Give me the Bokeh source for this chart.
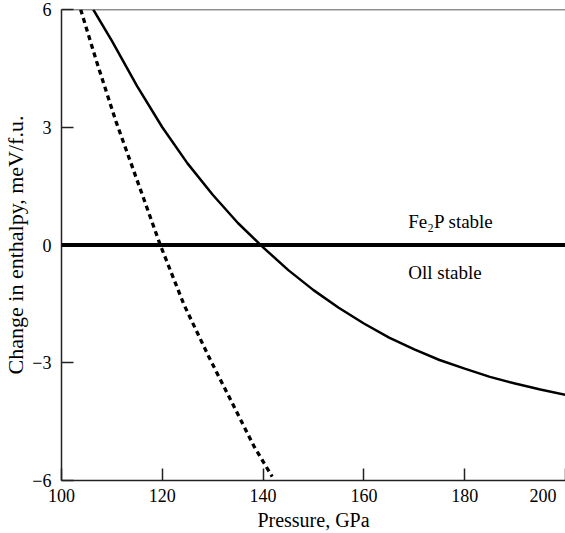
from bokeh.plotting import figure
from bokeh.models import Range1d, Span, Label, FixedTicker
from bokeh.embed import file_html
from bokeh.resources import INLINE

# Data
solid_p = [106.3, 110, 115, 120, 125, 130, 135, 140, 145, 150, 155, 160, 165, 170, 175, 180, 185, 190, 195, 200]
solid_e = [6.0, 5.2, 4.05, 3.0, 2.08, 1.28, 0.56, -0.06, -0.64, -1.15, -1.6, -2.0, -2.36, -2.66, -2.93, -3.15, -3.36, -3.53, -3.68, -3.82]

dashed_p = [103.8, 107.0, 110.8, 115.0, 119.6, 124.3, 129.2, 134.2, 138.2, 141.8]
dashed_e = [6.0, 4.66, 3.15, 1.65, 0.0, -1.52, -2.84, -4.11, -5.13, -5.9]

x_ticks = [100, 120, 140, 160, 180, 200]
y_ticks = [-6, -3, 0, 3, 6]
x_label = "Pressure, GPa"
y_label = "Change in enthalpy, meV/f.u."
region_labels = ["Fe\u2082P stable", "Oll stable"]
region_x = [168.8, 168.8]
region_y = [0.59, -0.71]

FONT = "Liberation Serif"
TICK_FS = "18px"

p = figure(width=565, height=533, output_backend="svg", toolbar_location=None,
           x_range=Range1d(100, 200), y_range=Range1d(-6, 6),
           min_border_left=61, min_border_right=0, min_border_top=9, min_border_bottom=52)
p.outline_line_color = None
p.grid.visible = False
p.background_fill_color = "white"
p.border_fill_color = "white"

for ax in (p.xaxis[0], p.yaxis[0]):
    ax.major_tick_in = 12
    ax.major_tick_out = 0
    ax.minor_tick_in = 0
    ax.minor_tick_out = 0
    ax.axis_line_width = 1.5
    ax.major_tick_line_width = 1.5
    ax.axis_line_color = "#222222"
    ax.major_tick_line_color = "#222222"
    ax.major_label_text_font = FONT
    ax.major_label_text_font_size = TICK_FS
    ax.major_label_text_color = "black"
    ax.axis_label_text_font = FONT
    ax.axis_label_text_font_style = "normal"
    ax.axis_label_text_color = "black"

p.xaxis[0].axis_label_text_font_size = "20px"
p.yaxis[0].axis_label_text_font_size = "22px"

p.xaxis[0].ticker = FixedTicker(ticks=x_ticks)
p.yaxis[0].ticker = FixedTicker(ticks=y_ticks)
p.xaxis[0].major_label_overrides = {200: "200\u2002"}
p.yaxis[0].major_label_overrides = {t: (str(t).replace("-", "\u2212")) for t in y_ticks}
p.xaxis[0].axis_label = x_label
p.yaxis[0].axis_label = y_label
p.xaxis[0].major_label_standoff = 5
p.yaxis[0].major_label_standoff = 10
p.xaxis[0].axis_label_standoff = 0
p.yaxis[0].axis_label_standoff = 1

# top frame line
p.add_layout(Span(location=6, dimension="width", line_color="#222222", line_width=1.5))

# zero line
p.add_layout(Span(location=0, dimension="width", line_color="black", line_width=4))

p.line(solid_p, solid_e, line_color="black", line_width=2.5)
p.line(dashed_p, dashed_e, line_color="black", line_width=3.3, line_dash="5 4")

for t, x, y in zip(region_labels, region_x, region_y):
    p.add_layout(Label(x=x, y=y, text=t, text_font=FONT, text_font_size="19px",
                       text_baseline="middle", text_align="left", text_color="black"))

open("out.html", "w").write(file_html(p, INLINE))
